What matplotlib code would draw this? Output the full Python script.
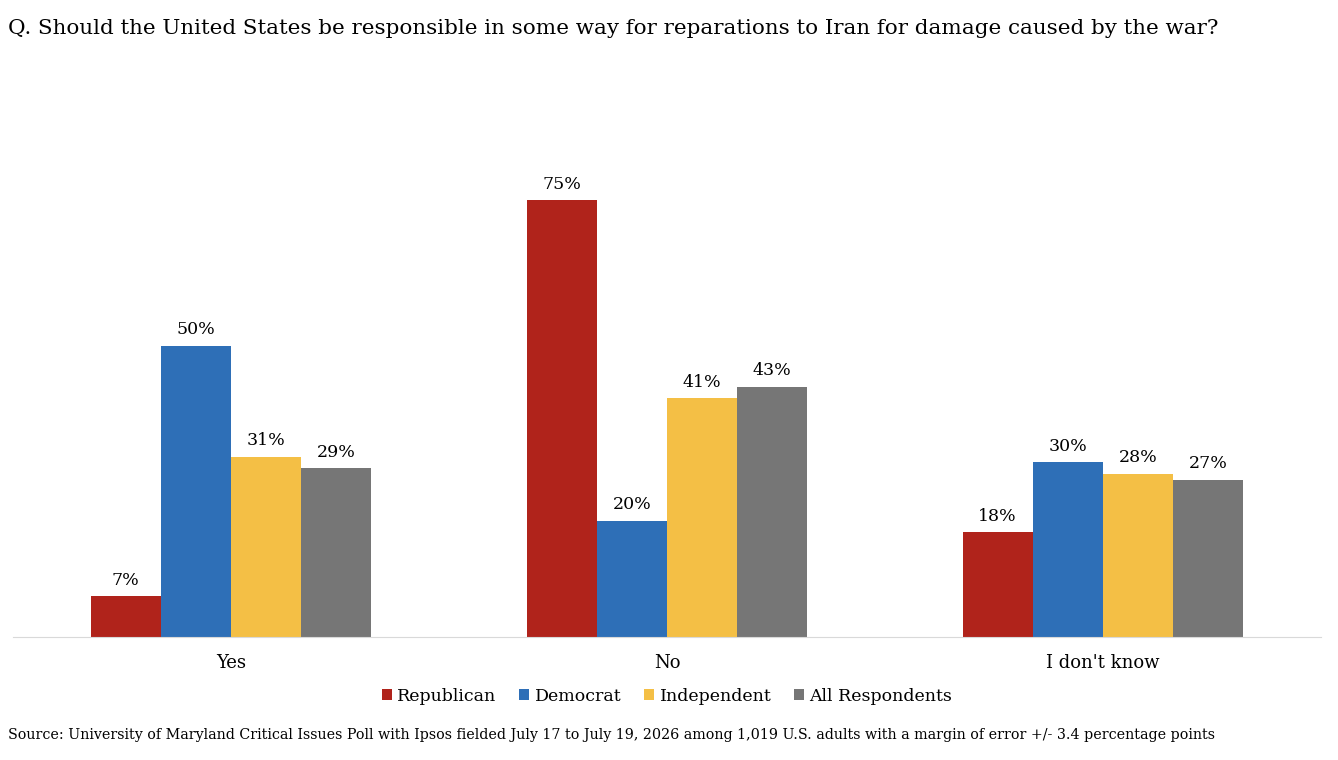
import matplotlib.pyplot as plt
import numpy as np

categories = ["Yes", "No", "I don't know"]
series_names = ["Republican", "Democrat", "Independent", "All Respondents"]
republican = [7, 75, 18]
democrat = [50, 20, 30]
independent = [31, 41, 28]
all_respondents = [29, 43, 27]

colors = ["#B0231B", "#2E6FB7", "#F4BF45", "#767676"]
title = "Q. Should the United States be responsible in some way for reparations to Iran for damage caused by the war?"
source = ("Source: University of Maryland Critical Issues Poll with Ipsos fielded July 17 to July 19, 2026 "
          "among 1,019 U.S. adults with a margin of error +/- 3.4 percentage points")

plt.rcParams['font.family'] = ['DejaVu Serif']

fig = plt.figure(figsize=(13.38, 7.6), dpi=100)
ax = fig.add_axes([0.0097, 0.1618, 0.9776, 0.613])

x = np.arange(len(categories))
width = 0.161
values = [republican, democrat, independent, all_respondents]
for i, (name, vals) in enumerate(zip(series_names, values)):
    pos = x + (i - 1.5) * width
    bars = ax.bar(pos, vals, width, color=colors[i], label=name)
    for b, v in zip(bars, vals):
        ax.text(b.get_x() + b.get_width() / 2, v + 1.3, f"{v}%",
                ha='center', va='bottom', fontsize=12.5)

ax.set_xlim(-0.5, 2.5)
ax.set_ylim(0, 80)
ax.set_yticks([])
ax.set_xticks(x)
ax.set_xticklabels(categories, fontsize=13)
ax.tick_params(axis='x', length=0, pad=12)
for s in ['top', 'right', 'left']:
    ax.spines[s].set_visible(False)
ax.spines['bottom'].set_color('#d9d9d9')

ax.legend(loc='upper center', bbox_to_anchor=(0.5, -0.075), ncol=4, frameon=False,
          fontsize=12.5, handlelength=0.6, handleheight=0.6, handletextpad=0.3,
          columnspacing=1.3)

fig.text(0.006, 0.975, title, fontsize=15.4, va='top', ha='left')
fig.text(0.006, 0.033, source, fontsize=10.3, va='center', ha='left')

fig.savefig("out.png", dpi=100)
